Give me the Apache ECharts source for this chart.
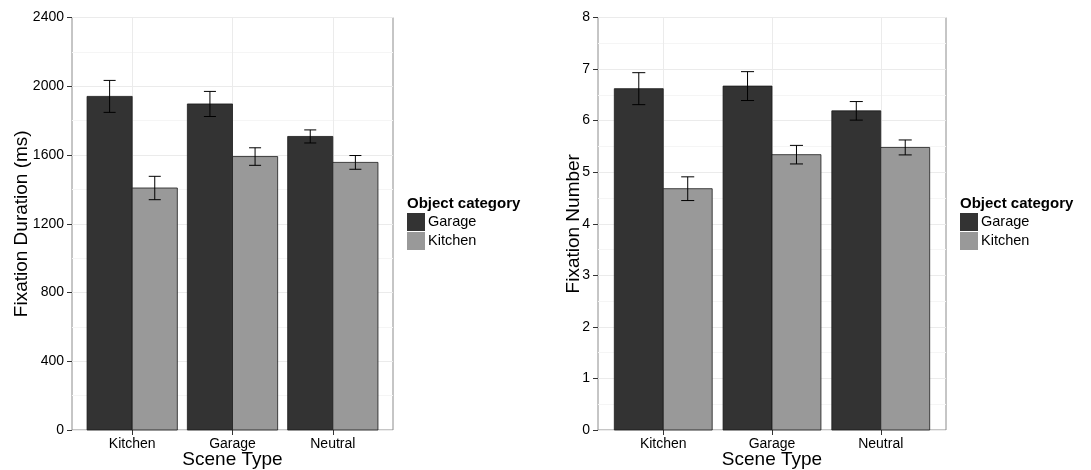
<!DOCTYPE html>
<html>
<head>
<meta charset="utf-8">
<title>Fixation duration and number by scene type</title>
<script src="https://cdn.jsdelivr.net/npm/echarts@6/dist/echarts.min.js"></script>
<style>
  html, body { margin: 0; padding: 0; background: #ffffff; }
  #chart { width: 1091px; height: 470px; }
</style>
</head>
<body>
<div id="chart"></div>
<script>
// Scene types on the x axis
const categories = ['Kitchen', 'Garage', 'Neutral'];
const groups = ['Garage', 'Kitchen'];

// Mean fixation duration (ms) and its standard error
const durationGarage = [1941, 1897, 1708];
const durationGarageSE = [93, 73, 38];
const durationKitchen = [1408, 1591, 1557];
const durationKitchenSE = [68, 51, 40];

// Mean fixation number and its standard error
const numberGarage = [6.62, 6.67, 6.19];
const numberGarageSE = [0.31, 0.28, 0.18];
const numberKitchen = [4.68, 5.34, 5.48];
const numberKitchenSE = [0.23, 0.18, 0.145];

// Tick labels
const durationTicks = [0, 400, 800, 1200, 1600, 2000, 2400];
const numberTicks = [0, 1, 2, 3, 4, 5, 6, 7, 8];

const FONT = '"Liberation Sans", Arial, sans-serif';
const fillColors = { Garage: '#333333', Kitchen: '#999999' };
const dodge = 0.225;     // half of the dodge width (0.9 / 4)
const barHalf = 0.225;   // half bar width
const capHalf = 0.06;    // half error-bar cap width

function rows(means, ses) {
  return categories.map((c, i) => [i + 1, means[i], ses[i]]);
}

function makeRender(offset, fill) {
  return function (params, api) {
    const cx = api.value(0) + offset;
    const mean = api.value(1);
    const se = api.value(2);
    const tl = api.coord([cx - barHalf, mean]);
    const br = api.coord([cx + barHalf, 0]);
    const top = api.coord([cx, mean + se]);
    const bot = api.coord([cx, mean - se]);
    const capL = api.coord([cx - capHalf, 0])[0];
    const capR = api.coord([cx + capHalf, 0])[0];
    const line = { stroke: '#000000', lineWidth: 1 };
    return {
      type: 'group',
      children: [
        {
          type: 'rect',
          shape: { x: tl[0], y: tl[1], width: br[0] - tl[0], height: br[1] - tl[1] },
          style: { fill: fill, stroke: '#1a1a1a', lineWidth: 0.8 }
        },
        { type: 'line', shape: { x1: top[0], y1: top[1], x2: bot[0], y2: bot[1] }, style: line },
        { type: 'line', shape: { x1: capL, y1: top[1], x2: capR, y2: top[1] }, style: line },
        { type: 'line', shape: { x1: capL, y1: bot[1], x2: capR, y2: bot[1] }, style: line }
      ]
    };
  };
}

function xAxisFor(gridIndex) {
  return {
    type: 'value',
    gridIndex: gridIndex,
    min: 0.4,
    max: 3.6,
    name: 'Scene Type',
    nameLocation: 'middle',
    nameGap: 20,
    nameMoveOverlap: false,
    nameTextStyle: { fontFamily: FONT, fontSize: 19, color: '#000000' },
    axisLine: { show: false },
    axisTick: { show: true, length: 5, customValues: [1, 2, 3], lineStyle: { color: '#333333' } },
    axisLabel: {
      customValues: [1, 2, 3],
      margin: 7,
      fontFamily: FONT,
      fontSize: 14,
      color: '#000000',
      formatter: v => categories[Math.round(v) - 1] || ''
    },
    splitLine: { show: true, lineStyle: { color: '#ebebeb', width: 1 } }
  };
}

function yAxisFor(gridIndex, ticks, name, gap) {
  return {
    type: 'value',
    gridIndex: gridIndex,
    min: ticks[0],
    max: ticks[ticks.length - 1],
    interval: ticks[1] - ticks[0],
    name: name,
    nameLocation: 'middle',
    nameRotate: 90,
    nameGap: gap,
    nameMoveOverlap: false,
    nameTextStyle: { fontFamily: FONT, fontSize: 19, color: '#000000' },
    axisLine: { show: false },
    axisTick: { show: true, length: 5, lineStyle: { color: '#333333' } },
    axisLabel: {
      margin: 8, fontFamily: FONT, fontSize: 14, color: '#000000',
      formatter: v => String(v)
    },
    splitLine: { show: true, lineStyle: { color: '#ebebeb', width: 1 } },
    minorTick: { show: false, splitNumber: 2 },
    minorSplitLine: { show: true, lineStyle: { color: '#f5f5f5', width: 1 } }
  };
}

function seriesFor(gridIndex, name, means, ses, offset) {
  return {
    type: 'custom',
    name: name,
    xAxisIndex: gridIndex,
    yAxisIndex: gridIndex,
    itemStyle: { color: fillColors[name] },
    renderItem: makeRender(offset, fillColors[name]),
    data: rows(means, ses),
    silent: true
  };
}

function legendFor(left) {
  return {
    data: groups,
    orient: 'vertical',
    left: left,
    top: 213,
    itemWidth: 18,
    itemHeight: 18,
    itemGap: 1,
    icon: 'rect',
    selectedMode: false,
    padding: 0,
    textStyle: { fontFamily: FONT, fontSize: 14.5, color: '#000000', padding: [0, 0, 0, -2] }
  };
}

function legendTitle(left) {
  return {
    type: 'text',
    left: left,
    top: 196,
    style: { text: 'Object category', fontFamily: FONT, fontSize: 15, fontWeight: 'bold', fill: '#000000' }
  };
}

function gridFor(left, width) {
  return {
    left: left, top: 17.5, width: width, height: 412.5,
    outerBoundsMode: 'none',
    containLabel: false,
    show: true, borderColor: '#8c8c8c', borderWidth: 1, backgroundColor: '#ffffff'
  };
}

const chart = echarts.init(document.getElementById('chart'), null, { renderer: 'canvas' });
chart.setOption({
  animation: false,
  backgroundColor: '#ffffff',
  grid: [gridFor(72, 321), gridFor(598, 348)],
  xAxis: [xAxisFor(0), xAxisFor(1)],
  yAxis: [
    yAxisFor(0, durationTicks, 'Fixation Duration (ms)', 41),
    yAxisFor(1, numberTicks, 'Fixation Number', 15)
  ],
  legend: [legendFor(407), legendFor(960)],
  graphic: [legendTitle(407), legendTitle(960)],
  series: [
    seriesFor(0, 'Garage', durationGarage, durationGarageSE, -dodge),
    seriesFor(0, 'Kitchen', durationKitchen, durationKitchenSE, dodge),
    seriesFor(1, 'Garage', numberGarage, numberGarageSE, -dodge),
    seriesFor(1, 'Kitchen', numberKitchen, numberKitchenSE, dodge)
  ]
});
</script>
</body>
</html>
